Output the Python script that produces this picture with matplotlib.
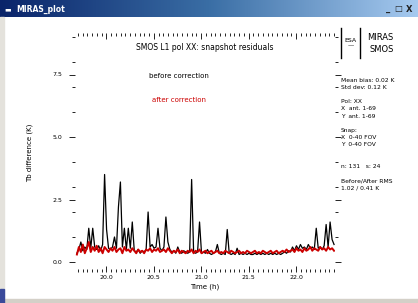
import numpy as np
import matplotlib
matplotlib.use('Agg')
import matplotlib.pyplot as plt
from matplotlib.colors import LinearSegmentedColormap
from matplotlib.ticker import MultipleLocator
from matplotlib.patches import Rectangle

# time axis (hours), regular sampling
t = np.linspace(19.69, 22.40, 131)

# before correction (black)
before = [0.35, 0.5, 0.8, 0.45, 0.6, 0.5, 1.35, 0.55, 1.35, 0.6,
          0.5, 0.65, 0.45, 0.7, 3.5, 1.3, 0.55, 0.5, 0.6, 1.0,
          0.55, 2.2, 3.2, 0.6, 1.35, 0.5, 1.35, 0.55, 1.6, 0.45,
          0.4, 0.5, 0.35, 0.45, 0.4, 0.5, 2.0, 0.6, 0.7, 0.55,
          0.6, 1.35, 0.55, 0.45, 0.6, 1.8, 0.8, 0.5, 0.4, 0.45,
          0.35, 0.6, 0.4, 0.35, 0.45, 0.4, 0.35, 0.4, 3.3, 0.4,
          0.35, 0.4, 1.6, 0.35, 0.4, 0.35, 0.5, 0.35, 0.3, 0.35,
          0.4, 0.7, 0.35, 0.3, 0.35, 0.3, 1.3, 0.35, 0.3, 0.35,
          0.3, 0.55, 0.3, 0.35, 0.3, 0.35, 0.3, 0.35, 0.3, 0.3,
          0.35, 0.3, 0.35, 0.3, 0.35, 0.3, 0.35, 0.3, 0.35, 0.3,
          0.35, 0.3, 0.35, 0.3, 0.35, 0.4, 0.35, 0.45, 0.4, 0.6,
          0.45, 0.65, 0.5, 0.7, 0.55, 0.6, 0.5, 0.7, 0.55, 0.6,
          0.5, 1.35, 0.55, 0.6, 0.5, 0.65, 1.5, 0.6, 1.6, 0.9,
          0.7]

# after correction (red)
after = [0.3, 0.6, 0.4, 0.7, 0.35, 0.55, 0.8, 0.4, 0.6, 0.45,
         0.65, 0.4, 0.55, 0.35, 0.6, 0.5, 0.4, 0.55, 0.45, 0.6,
         0.4, 0.5, 0.55, 0.35, 0.6, 0.45, 0.5, 0.4, 0.55, 0.45,
         0.35, 0.5, 0.4, 0.45, 0.35, 0.5, 0.45, 0.55, 0.4, 0.5,
         0.45, 0.55, 0.4, 0.45, 0.5, 0.4, 0.55, 0.45, 0.35, 0.45,
         0.4, 0.5, 0.35, 0.45, 0.4, 0.35, 0.45, 0.4, 0.5, 0.35,
         0.45, 0.4, 0.5, 0.35, 0.4, 0.45, 0.35, 0.4, 0.45, 0.35,
         0.4, 0.45, 0.35, 0.4, 0.35, 0.45, 0.4, 0.35, 0.45, 0.4,
         0.35, 0.4, 0.45, 0.35, 0.4, 0.35, 0.45, 0.4, 0.35, 0.4,
         0.45, 0.35, 0.4, 0.35, 0.45, 0.4, 0.35, 0.4, 0.45, 0.35,
         0.4, 0.45, 0.35, 0.4, 0.45, 0.4, 0.5, 0.4, 0.45, 0.5,
         0.4, 0.55, 0.45, 0.5, 0.4, 0.55, 0.45, 0.5, 0.6, 0.45,
         0.55, 0.5, 0.45, 0.6, 0.5, 0.55, 0.45, 0.6, 0.5, 0.55,
         0.45]

info_lines = ['Mean bias: 0.02 K', 'Std dev: 0.12 K', '',
              'Pol: XX', 'X  ant. 1-69', 'Y  ant. 1-69', '',
              'Snap:', 'X  0-40 FOV', 'Y  0-40 FOV', '', '',
              'n: 131   s: 24', '',
              'Before/After RMS', '1.02 / 0.41 K']

W, H = 418, 303
fig = plt.figure(figsize=(W / 100, H / 100), dpi=100)
fig.patch.set_facecolor('white')

def fx(px):
    return px / W

def fy(py):
    return 1 - py / H

# window chrome: title bar, left border, status bar
bar = fig.add_axes([0, fy(17), 1, 17 / H])
cmap = LinearSegmentedColormap.from_list('tb', ['#0a246a', '#3a6ea5', '#a6caf0'])
bar.imshow(np.linspace(0, 1, 256)[None, :], cmap=cmap, aspect='auto')
bar.set_axis_off()
fig.text(fx(4), fy(9), '\u25ac', color='white', fontsize=5, va='center')
fig.text(fx(16), fy(9), 'MIRAS_plot', color='white', fontsize=5.5,
         fontweight='bold', va='center')
for xb, s in [(388, '_'), (398, '\u25a1'), (409, 'X')]:
    fig.text(fx(xb), fy(9), s, color='#222222', fontsize=6, fontweight='bold',
             ha='center', va='center')
fig.patches.append(Rectangle((0, 0), fx(4), fy(17), transform=fig.transFigure,
                             color='#e4e2dc', zorder=0))
fig.patches.append(Rectangle((0, 0), 1, 4 / H, transform=fig.transFigure,
                             color='#d4d0c8', zorder=0))
fig.patches.append(Rectangle((0, 0), fx(4), 14 / H, transform=fig.transFigure,
                             color='#3a4a9a', zorder=1))

# main plot
ax = fig.add_axes([fx(75), fy(272), fx(335) - fx(75), (272 - 33) / H])
ax.plot(t, before, color='black', lw=0.9)
ax.plot(t, after, color='#cc0000', lw=1.4)
ax.set_xlim(t[0] - 0.02, t[-1] + 0.01)
ax.set_ylim(-0.4, 9.16)
for s in ax.spines.values():
    s.set_visible(False)
ax.xaxis.set_major_locator(MultipleLocator(0.5))
ax.xaxis.set_minor_locator(MultipleLocator(0.05))
ax.yaxis.set_major_locator(MultipleLocator(2.5))
ax.yaxis.set_minor_locator(MultipleLocator(1.0))
ax.tick_params(which='both', top=True, right=True, direction='in',
               labelsize=4.5, pad=2, width=0.6)
ax.tick_params(axis='y', which='both', left=True, direction='out', pad=5)
ax.tick_params(which='major', length=4)
ax.tick_params(which='minor', length=2)
ax.xaxis.set_major_formatter(lambda v, p: f'{v:.1f}')
ax.yaxis.set_major_formatter(lambda v, p: f'{v:.1f}')
ax.set_xlabel('Time (h)', fontsize=5, labelpad=3)
ax.set_ylabel('Tb difference (K)', fontsize=5, labelpad=14)
ax.text(0.5, 0.94, 'SMOS L1 pol XX: snapshot residuals', transform=ax.transAxes,
        fontsize=5.5, ha='center', va='center')
ax.text(0.4, 0.82, 'before correction', transform=ax.transAxes,
        fontsize=5, ha='center', va='center', color='black')
ax.text(0.4, 0.72, 'after correction', transform=ax.transAxes,
        fontsize=5, ha='center', va='center', color='#cc0000')

# logo box on the right
fig.lines.append(plt.Line2D([fx(341), fx(341)], [fy(28), fy(58)],
                            transform=fig.transFigure, color='black', lw=1))
fig.lines.append(plt.Line2D([fx(360), fx(360)], [fy(28), fy(58)],
                            transform=fig.transFigure, color='black', lw=1))
fig.text(fx(350.5), fy(43), 'ESA\n\u2014', fontsize=4.5, ha='center', va='center')
fig.text(fx(367), fy(37), 'MIRAS', fontsize=6, va='center')
fig.text(fx(369), fy(49), 'SMOS', fontsize=6, va='center')

# info column
y0 = 80
for i, line in enumerate(info_lines):
    fig.text(fx(341), fy(y0 + i * 7.2), line, fontsize=4.3, va='center')

fig.savefig('out.png', dpi=100)
